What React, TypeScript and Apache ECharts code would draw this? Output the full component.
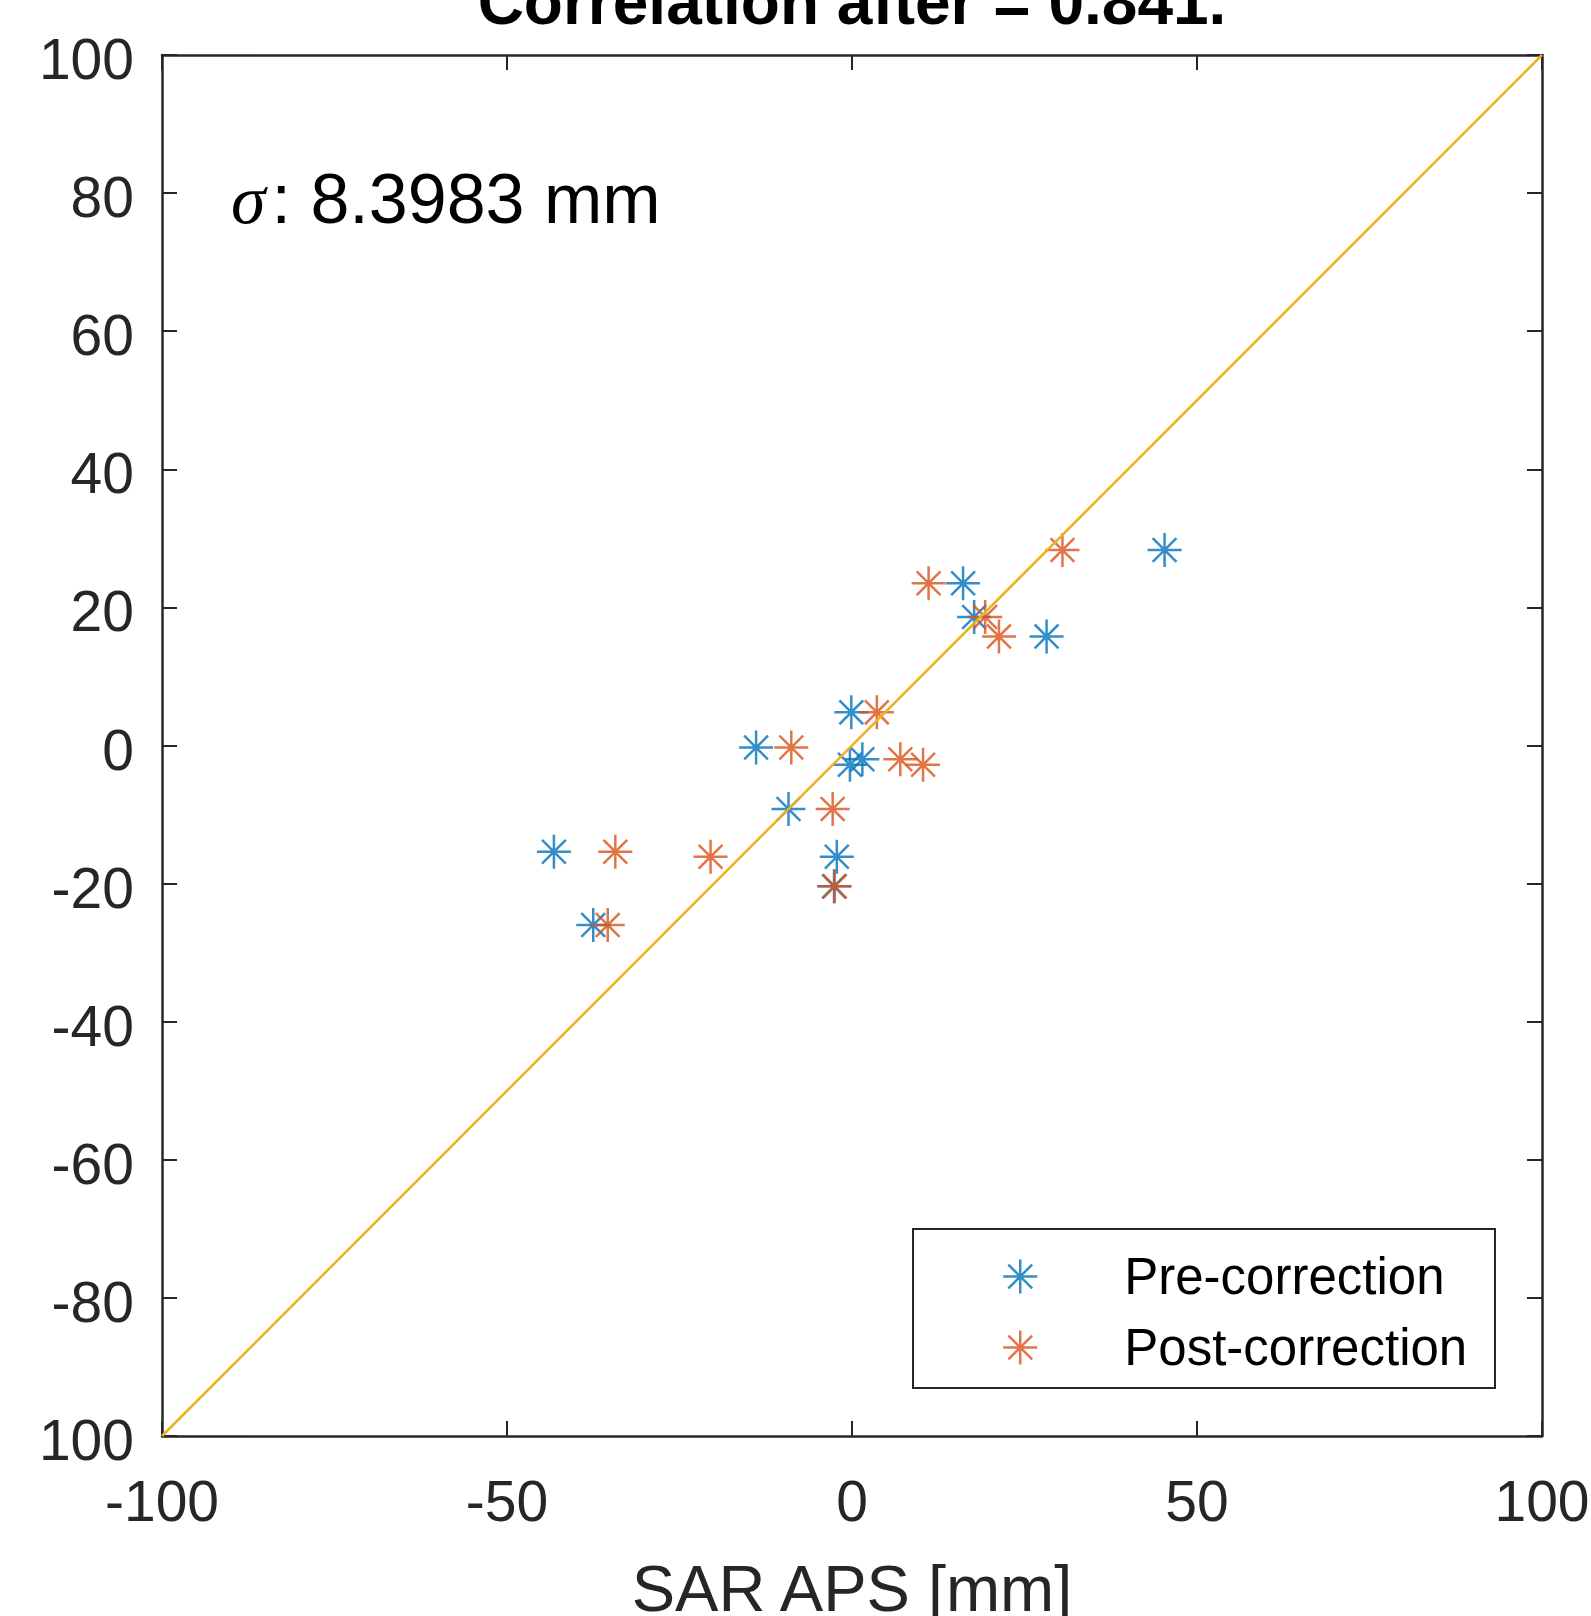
import React, { useEffect, useRef } from "react";
import * as echarts from "echarts";

// Reference values (y, shared) and SAR APS (x) before / after correction
const refY = [-15.4, -26.0, -0.3, -9.2, -16.1, -20.4, 4.8, -2.8, -2.0, 23.5, 18.6, 15.8, 28.3];
const preX = [-43.2, -37.5, -13.9, -9.2, -2.2, -2.6, -0.1, -0.3, 1.5, 16.1, 17.7, 28.2, 45.3];
const postX = [-34.3, -35.4, -8.8, -2.8, -20.5, -2.5, 3.6, 10.3, 7.0, 11.1, 19.3, 21.3, 30.5];
const diagX = [-100, 100];
const yTickValues = [-100, -80, -60, -40, -20, 0, 20, 40, 60, 80, 100];
const yTickLabels = ["100", "-80", "-60", "-40", "-20", "0", "20", "40", "60", "80", "100"];
const seriesNames = ["Pre-correction", "Post-correction"];
const titleText = "Correlation after = 0.841.";
const sigmaText = ": 8.3983 mm";
const xName = "SAR APS [mm]";

const BLUE = "#0072BD";
const ORANGE = "#D95319";
const GOLD = "#EDB120";
const AXIS = "#262626";
const FONT = "'Liberation Sans', Arial, Helvetica, sans-serif";
const STAR = "path://M0,-1L0,1M-1,0L1,0M-0.7,-0.7L0.7,0.7M-0.7,0.7L0.7,-0.7";

export default function App() {
  const ref = useRef<HTMLDivElement>(null);
  useEffect(() => {
    document.body.style.margin = "0";
    if (!ref.current) return;
    const chart = echarts.init(ref.current, undefined, { renderer: "svg" });
    const tickCommon = {
      axisLine: { show: true, onZero: false, lineStyle: { color: AXIS, width: 2.5 } },
      axisTick: { show: true, inside: true, length: 15, lineStyle: { color: AXIS, width: 2 } },
      splitLine: { show: false },
    };
    const yLabel = (v: number) => {
      const i = yTickValues.indexOf(v);
      return "{v|" + (i >= 0 ? yTickLabels[i] : String(v)) + "}";
    };
    chart.setOption({
      animation: false,
      backgroundColor: "#fff",
      textStyle: { fontFamily: FONT },
      grid: { left: 162, top: 55, right: 49, bottom: 180, containLabel: false, outerBoundsMode: "none" },
      xAxis: [
        {
          type: "value", min: -100, max: 100, interval: 50, position: "bottom",
          ...tickCommon,
          axisLabel: { show: true, fontSize: 57, color: AXIS, margin: 36, fontFamily: FONT },
          name: xName, nameLocation: "middle", nameGap: 120,
          nameTextStyle: { fontSize: 65, color: AXIS, fontFamily: FONT },
        },
        {
          type: "value", min: -100, max: 100, interval: 50, position: "top",
          ...tickCommon, axisLabel: { show: false },
        },
      ],
      yAxis: [
        {
          type: "value", min: -100, max: 100, interval: 20, position: "left",
          ...tickCommon,
          axisLabel: {
            show: true, fontSize: 57, color: AXIS, margin: 28, fontFamily: FONT,
            formatter: yLabel,
            rich: { v: { fontSize: 57, color: AXIS, fontFamily: FONT, padding: [8, 0, 0, 0] } },
          },
        },
        {
          type: "value", min: -100, max: 100, interval: 20, position: "right",
          ...tickCommon, axisLabel: { show: false },
        },
      ],
      legend: {
        show: true, orient: "vertical", left: 1002, top: 1251,
        itemWidth: 34, itemHeight: 34, itemGap: 20, padding: 0,
        borderWidth: 0,
        textStyle: { fontSize: 51, color: "#000", fontFamily: FONT, lineHeight: 51, padding: [0, 0, 0, 82] },
        data: [
          { name: seriesNames[0], icon: STAR, itemStyle: { color: BLUE, borderColor: BLUE, borderWidth: 2.5 } },
          { name: seriesNames[1], icon: STAR, itemStyle: { color: ORANGE, borderColor: ORANGE, borderWidth: 2.5 } },
        ],
      },
      graphic: [
        {
          type: "rect", z: 1,
          shape: { x: 913, y: 1229, width: 582, height: 159 },
          style: { fill: "none", stroke: AXIS, lineWidth: 2 },
        },
        {
          type: "text", x: 852, y: 2,
          style: {
            text: titleText, fontSize: 64, fontWeight: "bold", fontFamily: FONT,
            fill: "#000", align: "center", verticalAlign: "middle",
          },
        },
        {
          type: "text", x: 231, y: 199,
          style: {
            text: "{s|σ}{n|" + sigmaText + "}",
            align: "left", verticalAlign: "middle",
            rich: {
              s: { fontSize: 70, fontStyle: "italic", fontFamily: "'Liberation Serif', 'DejaVu Serif', serif", fill: "#000", padding: [0, 6, 0, 0] },
              n: { fontSize: 70, fontFamily: FONT, fill: "#000" },
            },
          },
        },
      ],
      series: [
        {
          name: seriesNames[0], type: "scatter", symbol: STAR, symbolSize: 34,
          itemStyle: { color: BLUE, borderColor: BLUE, borderWidth: 2.5 },
          data: preX.map((x, i) => [x, refY[i]]),
        },
        {
          name: seriesNames[1], type: "scatter", symbol: STAR, symbolSize: 34,
          itemStyle: { color: ORANGE, borderColor: ORANGE, borderWidth: 2.5 },
          data: postX.map((x, i) => [x, refY[i]]),
        },
        {
          name: "1:1", type: "line", symbol: "none",
          lineStyle: { color: GOLD, width: 2.5 },
          data: diagX.map((v) => [v, v]),
        },
      ],
    });
    return () => chart.dispose();
  }, []);
  return <div ref={ref} style={{ width: 1591, height: 1616 }} />;
}
